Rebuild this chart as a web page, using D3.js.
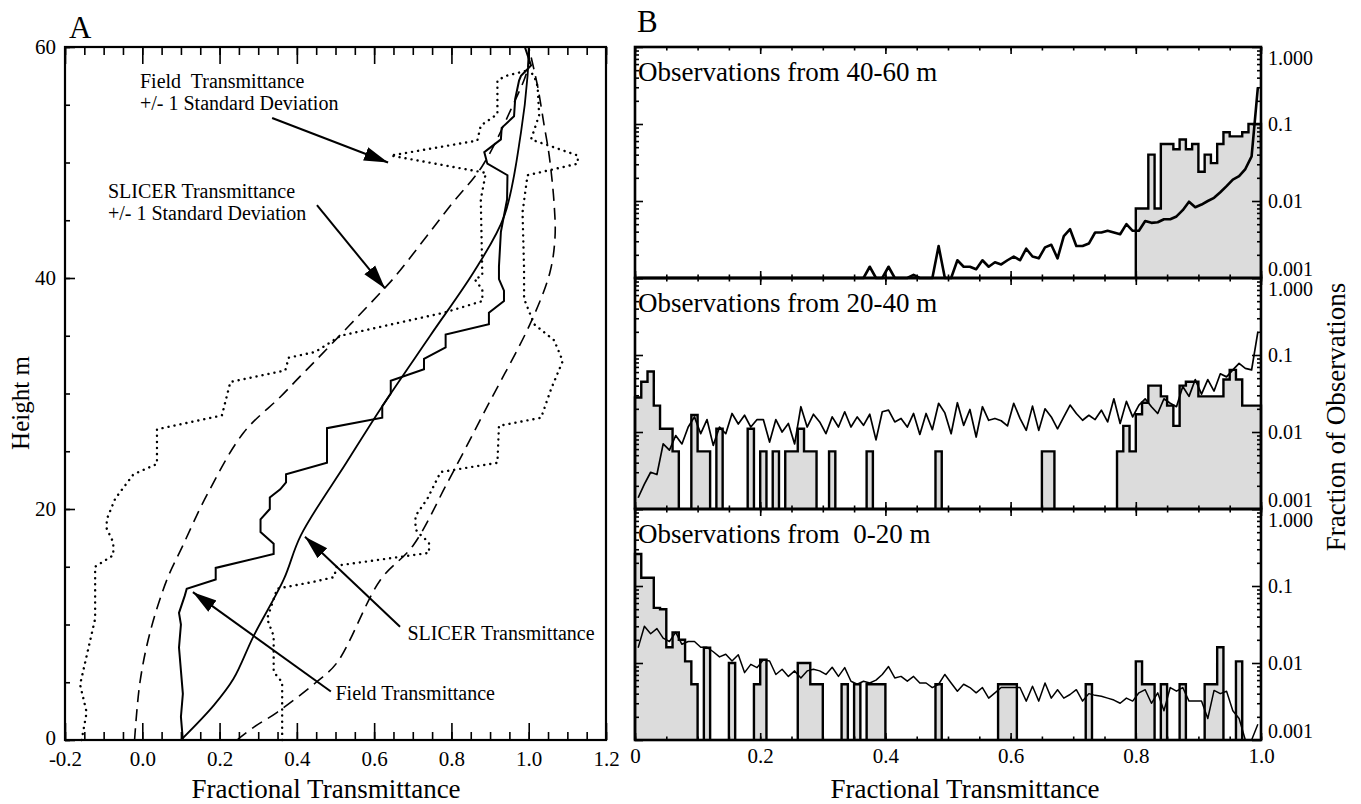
<!DOCTYPE html>
<html>
<head>
<meta charset="utf-8">
<script src="https://cdn.jsdelivr.net/npm/d3@7/dist/d3.min.js"></script>
<style>
body { margin: 0; background: #fff; }
svg text { font-family: "Liberation Serif", "Times New Roman", serif; fill: #000; }
</style>
</head>
<body>
<div id="graph"></div>
<script>
// ---------- panel A : vertical profiles [transmittance, height m] ----------
var heightTicks = [0, 20, 40, 60];
var transTicksA = [-0.2, 0.0, 0.2, 0.4, 0.6, 0.8, 1.0, 1.2];

var fieldProfile = [[0.105,0],[0.10,2],[0.105,4],[0.10,6],[0.095,8],[0.10,10],[0.095,11],[0.11,12.5],[0.115,13.1],
    [0.19,13.9],[0.19,14.9],[0.34,16.1],[0.34,17],[0.306,18],[0.306,19.1],[0.33,20],[0.33,21],[0.357,21.7],
    [0.372,22.3],[0.372,23],[0.478,24],[0.478,27],[0.621,27.9],[0.621,28.9],[0.643,30],[0.643,31.1],[0.729,32.1],
    [0.729,33],[0.785,34],[0.785,35.1],[0.897,36],[0.897,37],[0.936,38],[0.936,38.9],[0.923,39.9],[0.923,41],
    [0.928,44],[0.944,46.8],[0.945,48.9],[0.893,49.9],[0.885,50.9],[0.928,52],[0.93,53],[0.962,54],[0.965,55.5],
    [0.975,57.1],[0.98,57.5],[1.006,58.4],[0.99,60]];
var slicerProfile = [[0.10,0],[0.185,3],[0.236,5.3],[0.288,9],[0.366,13.9],[0.41,17.7],[0.528,24],[0.621,28.9],
    [0.745,35],[0.863,40.8],[0.937,45.4],[0.98,52.6],[0.997,57.5],[1.0,60]];
var slicerLow = [[-0.02,0],[-0.006,5],[0.02,9.3],[0.064,13.9],[0.103,16.7],[0.167,21.2],[0.262,26.6],[0.357,29.7],
    [0.409,31.5],[0.453,33],[0.621,38.9],[0.656,40.2],[0.798,46.3],[0.88,49.7],[0.954,54.6],[0.997,58.1],[1.0,60]];
var slicerHigh = [[0.245,0],[0.288,1.1],[0.349,2.4],[0.45,5],[0.504,6.7],[0.617,13.9],[0.70,16.8],[0.79,22.3],
    [0.893,28.9],[1.006,36.2],[1.055,40.5],[1.068,43.5],[1.066,46.3],[1.053,50.6],[1.04,53.2],[1.023,56.6],[1.0,60]];
var fieldLow = [[-0.157,0],[-0.144,2.4],[-0.161,4.8],[-0.15,6.4],[-0.122,10.5],[-0.122,15],[-0.075,16],[-0.075,17.1],
    [-0.092,18.3],[-0.092,19.1],[-0.07,20.9],[-0.023,23],[0.038,23.9],[0.038,26.9],[0.206,28.1],[0.228,31],[0.37,32],
    [0.379,33.1],[0.448,33.6],[0.513,35],[0.781,37],[0.88,38],[0.88,39],[0.86,39.9],[0.88,40.2],[0.876,46.8],
    [0.889,49.1],[0.643,50.6],[0.867,51.9],[0.876,53.2],[0.919,54.2],[0.919,57.1],[0.941,57.5],[1.0,58]];
var fieldHigh = [[0.362,0],[0.362,5],[0.34,5.9],[0.34,9],[0.323,10.5],[0.349,13.1],[0.444,13.7],[0.496,14.1],
    [0.504,15.1],[0.742,16.2],[0.742,17.1],[0.712,18],[0.707,18.3],[0.707,19.4],[0.738,20.9],[0.772,23.2],[0.919,24],
    [0.923,27.2],[1.032,27.9],[1.058,30.4],[1.088,32.8],[1.066,34.6],[1.014,36],[0.988,38.2],[0.988,40.8],[0.984,45.7],
    [0.997,48.9],[1.127,49.9],[1.127,50.6],[1.006,52],[1.027,54.1],[1.023,56.6],[1.014,57.5],[1.0,58]];

var annoLabels = [
    {lines: ["Field  Transmittance", "+/- 1 Standard Deviation"], at: [-0.006, 56.45]},
    {lines: ["SLICER Transmittance", "+/- 1 Standard Deviation"], at: [-0.089, 46.9]},
    {lines: ["SLICER Transmittance"], at: [0.686, 8.66]},
    {lines: ["Field Transmittance"], at: [0.50, 3.46]}
];
var annoArrows = [
    [[0.336, 53.85], [0.636, 50.0]],
    [[0.452, 46.3], [0.628, 39.1]],
    [[0.667, 9.8], [0.421, 17.6]],
    [[0.488, 4.2], [0.131, 12.8]]
];

// ---------- panel B : histograms, 100 bins of 0.01 ----------
var transTicksB = [0, 0.2, 0.4, 0.6, 0.8, 1.0];
var fracTicks = [0.001, 0.01, 0.1, 1];
var binStarts = d3.range(100).map(function(i) { return i / 100; });
var panelTitles = ["Observations from 40-60 m", "Observations from 20-40 m", "Observations from  0-20 m"];

var obs4060 = [0,0,0,0,0,0,0,0,0,0, 0,0,0,0,0,0,0,0,0,0, 0,0,0,0,0,0,0,0,0,0, 0,0,0,0,0,0,0,0,0,0,
    0,0,0,0,0,0,0,0,0,0, 0,0,0,0,0,0,0,0,0,0, 0,0,0,0,0,0,0,0,0,0, 0,0,0,0,0,0,0,0,0,0,
    0.008,0.008,0.040,0.008,0.055,0.055,0.047,0.063,0.047,0.055,
    0.024,0.040,0.031,0.055,0.078,0.069,0.069,0.078,0.100,0.100];
var slicer4060 = [0.0008,0.0008,0.0008,0.0008,0.0008,0.0008,0.0008,0.0008,0.0008,0.0008,
    0.0008,0.0008,0.0008,0.0008,0.0008,0.0008,0.0008,0.0008,0.0008,0.0008,
    0.0008,0.0008,0.0008,0.0008,0.0008,0.0008,0.0008,0.0008,0.0008,0.0008,
    0.0008,0.0008,0.0008,0.0008,0.0008,0.0008,0.0008,0.0014,0.0008,0.0008,
    0.0014,0.0008,0.0008,0.0008,0.0011,0.0008,0.0008,0.0008,0.0026,0.0008,
    0.0008,0.0017,0.0014,0.0014,0.0013,0.0017,0.0014,0.0016,0.0015,0.0017,
    0.0019,0.0017,0.0024,0.0019,0.0018,0.0025,0.0027,0.0018,0.0035,0.0043,
    0.0026,0.0026,0.0028,0.0039,0.0039,0.0041,0.0039,0.0037,0.0050,0.0041,
    0.0041,0.0055,0.0052,0.0053,0.0058,0.0058,0.0063,0.0076,0.0098,0.0083,
    0.0090,0.0100,0.0110,0.0130,0.0156,0.0190,0.0210,0.0260,0.0380,0.3000];

var obs2040 = [0.028,0.045,0.061,0.022,0.011,0.011,0.0056,0,0,0.0166,
    0.0056,0.0056,0,0.011,0,0,0,0,0.011,0,
    0.0056,0,0.0056,0,0.0056,0.0056,0.011,0.0056,0.0056,0,
    0,0.0056,0,0,0,0,0,0.0056,0,0,
    0,0,0,0,0,0,0,0,0.0056,0,
    0,0,0,0,0,0,0,0,0,0,
    0,0,0,0,0,0.0056,0.0056,0,0,0,
    0,0,0,0,0,0,0,0.0056,0.012,0.0056,
    0.017,0.024,0.040,0.040,0.029,0.022,0.012,0.040,0.045,0.045,
    0.029,0.029,0.029,0.029,0.048,0.064,0.048,0.022,0.022,0.022];
var slicer2040 = [0.0014,0.0021,0.0030,0.0028,0.0070,0.0058,0.0090,0.0070,0.0116,0.0157,
    0.0095,0.0145,0.0067,0.0116,0.0095,0.0174,0.0127,0.0165,0.0116,0.0145,
    0.0145,0.0074,0.0145,0.0100,0.0129,0.0070,0.0213,0.0116,0.0170,0.0135,
    0.0095,0.0157,0.0116,0.0183,0.0116,0.0157,0.0122,0.0170,0.0079,0.0183,
    0.0192,0.0135,0.0150,0.0116,0.0174,0.0093,0.0174,0.0107,0.0236,0.0177,
    0.0095,0.0240,0.0122,0.0196,0.0086,0.0213,0.0142,0.0150,0.0140,0.0120,
    0.0236,0.0150,0.0105,0.0217,0.0105,0.0200,0.0157,0.0110,0.0157,0.0224,
    0.0174,0.0142,0.0165,0.0145,0.0192,0.0135,0.0270,0.0129,0.0250,0.0157,
    0.0224,0.0270,0.0213,0.0174,0.0270,0.0236,0.0213,0.0390,0.0290,0.0480,
    0.0310,0.0480,0.0340,0.0570,0.0520,0.0640,0.0780,0.0670,0.0640,0.2000];

var obs0020 = [0.26,0.128,0.128,0.052,0.050,0.016,0.025,0.020,0.0105,0.0053,
    0,0.0158,0,0,0,0.010,0,0,0,0.0053,
    0.011,0,0,0,0,0,0.010,0.010,0.0053,0.0053,
    0,0,0,0.0053,0,0.0053,0,0.0053,0.0053,0.0053,
    0,0,0,0,0,0,0,0,0.0053,0,
    0,0,0,0,0,0,0,0,0.0053,0.0053,
    0.0053,0,0,0,0,0,0,0,0,0,
    0,0,0.0053,0,0,0,0,0,0,0,
    0.0105,0.0053,0.0053,0,0.0053,0,0,0.0053,0,0,
    0,0.0053,0.0053,0.016,0,0,0.0105,0,0,0];
var slicer0020 = [0.0158,0.0300,0.0240,0.0280,0.0210,0.0190,0.0250,0.0175,0.0190,0.0190,
    0.0160,0.0160,0.0140,0.0120,0.0130,0.0106,0.0128,0.0075,0.0096,0.0087,
    0.0110,0.0106,0.0071,0.0083,0.0067,0.0079,0.0064,0.0079,0.0083,0.0079,
    0.0071,0.0088,0.0067,0.0087,0.0058,0.0053,0.0058,0.0055,0.0060,0.0071,
    0.0090,0.0064,0.0067,0.0058,0.0067,0.0055,0.0055,0.0048,0.0053,0.0071,
    0.0055,0.0043,0.0053,0.0048,0.0041,0.0048,0.0035,0.0041,0.0048,0.0048,
    0.0048,0.0048,0.0032,0.0050,0.0032,0.0055,0.0035,0.0045,0.0035,0.0039,
    0.0045,0.0032,0.0040,0.0038,0.0037,0.0035,0.0033,0.0030,0.0035,0.0032,
    0.0041,0.0045,0.0030,0.0041,0.0024,0.0048,0.0043,0.0048,0.0032,0.0032,
    0.0032,0.0019,0.0044,0.0040,0.0043,0.0024,0.0019,0.0008,0.0008,0.0016];

var panelObs = [obs4060, obs2040, obs0020];
var panelSlicer = [slicer4060, slicer2040, slicer0020];
var slicerWidths = [2.6, 1.7, 1.5];

// ---------- drawing ----------
var serif = "'Liberation Serif', 'Times New Roman', serif";
var svg = d3.select("#graph").append("svg")
    .attr("width", 1361)
    .attr("height", 804);

var sizeA = {left: 65, right: 606, top: 47, bottom: 740};
var sizeB = {left: 635, right: 1261, top: 47, bottom: 740};

var xA = d3.scaleLinear().domain([-0.2, 1.2]).range([sizeA.left, sizeA.right]);
var yA = d3.scaleLinear().domain([0, 60]).range([sizeA.bottom, sizeA.top]);
var xB = d3.scaleLinear().domain([0, 1]).range([sizeB.left, sizeB.right]);

function plainAxis(g) {
    g.attr("font-family", serif).attr("font-size", null);
    g.select(".domain").remove();
    g.selectAll(".tick line").attr("stroke", "#000").attr("stroke-width", 1.6);
    g.selectAll(".tick text").style("font-family", serif);
}

// arrow head
svg.append("defs").append("marker")
    .attr("id", "head")
    .attr("markerUnits", "userSpaceOnUse")
    .attr("viewBox", "-24 -8 26 16")
    .attr("markerWidth", 26)
    .attr("markerHeight", 16)
    .attr("refX", 0)
    .attr("refY", 0)
    .attr("orient", "auto")
    .append("path")
    .attr("d", "M0,0L-24,-7L-24,7Z")
    .attr("fill", "#000");

// ----- panel A -----
var gA = svg.append("g");

gA.append("g").attr("transform", "translate(0," + sizeA.bottom + ")")
    .call(d3.axisBottom(xA).ticks(28).tickSize(-8).tickFormat(""))
    .call(plainAxis);
gA.append("g").attr("transform", "translate(0," + sizeA.bottom + ")")
    .call(d3.axisBottom(xA).tickValues(transTicksA).tickSize(-17).tickPadding(11)
        .tickFormat(function(d) { return d.toFixed(1); }))
    .call(plainAxis)
    .selectAll("text").attr("font-size", 21);
gA.append("g").attr("transform", "translate(0," + sizeA.top + ")")
    .call(d3.axisTop(xA).ticks(28).tickSize(-8).tickFormat(""))
    .call(plainAxis);
gA.append("g").attr("transform", "translate(0," + sizeA.top + ")")
    .call(d3.axisTop(xA).tickValues(transTicksA).tickSize(-17).tickFormat(""))
    .call(plainAxis);
gA.append("g").attr("transform", "translate(" + sizeA.left + ",0)")
    .call(d3.axisLeft(yA).ticks(12).tickSize(-5).tickFormat(""))
    .call(plainAxis);
gA.append("g").attr("transform", "translate(" + sizeA.left + ",0)")
    .call(d3.axisLeft(yA).tickValues(heightTicks).tickSize(-10).tickPadding(9))
    .call(plainAxis)
    .selectAll("text")
    .attr("font-size", 21)
    .attr("dy", function(d) { return d === 0 ? "0.22em" : "0.32em"; });

gA.append("rect")
    .attr("x", sizeA.left)
    .attr("y", sizeA.top)
    .attr("width", sizeA.right - sizeA.left)
    .attr("height", sizeA.bottom - sizeA.top)
    .attr("fill", "none")
    .attr("stroke", "#000")
    .attr("stroke-width", 2.2);

var profileLine = d3.line()
    .x(function(d) { return xA(d[0]); })
    .y(function(d) { return yA(d[1]); });
var smoothLine = d3.line()
    .curve(d3.curveCatmullRom)
    .x(function(d) { return xA(d[0]); })
    .y(function(d) { return yA(d[1]); });

[fieldLow, fieldHigh].forEach(function(p) {
    gA.append("path").attr("d", profileLine(p))
        .attr("fill", "none").attr("stroke", "#000")
        .attr("stroke-width", 2.4).attr("stroke-linecap", "round")
        .attr("stroke-dasharray", "0.1 6");
});
[slicerLow, slicerHigh].forEach(function(p) {
    gA.append("path").attr("d", smoothLine(p))
        .attr("fill", "none").attr("stroke", "#000")
        .attr("stroke-width", 1.6)
        .attr("stroke-dasharray", "12 7");
});
gA.append("path").attr("d", smoothLine(slicerProfile))
    .attr("fill", "none").attr("stroke", "#000").attr("stroke-width", 1.8);
gA.append("path").attr("d", profileLine(fieldProfile))
    .attr("fill", "none").attr("stroke", "#000").attr("stroke-width", 2).attr("stroke-linejoin", "miter");

annoArrows.forEach(function(a) {
    gA.append("line")
        .attr("x1", xA(a[0][0])).attr("y1", yA(a[0][1]))
        .attr("x2", xA(a[1][0])).attr("y2", yA(a[1][1]))
        .attr("stroke", "#000").attr("stroke-width", 2)
        .attr("marker-end", "url(#head)");
});
annoLabels.forEach(function(l) {
    l.lines.forEach(function(s, i) {
        gA.append("text")
            .attr("x", xA(l.at[0]))
            .attr("y", yA(l.at[1]) + i * 22)
            .attr("font-size", 20)
            .style("white-space", "pre")
            .text(s);
    });
});

gA.append("text").attr("x", 69).attr("y", 38).attr("font-size", 31).text("A");
gA.append("text")
    .attr("transform", "translate(29,403) rotate(-90)")
    .attr("text-anchor", "middle")
    .attr("font-size", 25)
    .text("Height m");
gA.append("text")
    .attr("x", 326).attr("y", 798)
    .attr("text-anchor", "middle")
    .attr("font-size", 27)
    .text("Fractional Transmittance");

// ----- panel B -----
var gB = svg.append("g");
var panelH = (sizeB.bottom - sizeB.top) / 3;
var binWidth = 0.01;

function histPath(values, y) {
    var d = "", open = false, base = y.range()[0];
    values.forEach(function(v, i) {
        var x0 = xB(binStarts[i]), x1 = xB(binStarts[i] + binWidth);
        if (v > 0) {
            if (!open) { d += "M" + x0 + "," + base; open = true; }
            d += "V" + y(v) + "H" + x1;
        } else if (open) {
            d += "V" + base;
            open = false;
        }
    });
    if (open) d += "V" + base;
    return d;
}

panelTitles.forEach(function(title, p) {
    var top = sizeB.top + p * panelH, bottom = top + panelH;
    var y = d3.scaleLog().domain([0.001, 1]).range([bottom, top]).clamp(true);
    var g = gB.append("g");
    var minorLog = y.ticks().filter(function(d) { return fracTicks.indexOf(d) < 0; });

    var hp = histPath(panelObs[p], y);
    g.append("path").attr("d", hp).attr("fill", "#dcdcdc").attr("stroke", "none");
    g.append("path").attr("d", hp).attr("fill", "none")
        .attr("stroke", "#000").attr("stroke-width", 2.4).attr("stroke-linejoin", "miter");

    var line = d3.line()
        .x(function(d, i) { return xB(binStarts[i] + binWidth / 2); })
        .y(function(d) { return y(d); });
    g.append("path").attr("d", line(panelSlicer[p]))
        .attr("fill", "none").attr("stroke", "#000")
        .attr("stroke-width", slicerWidths[p]).attr("stroke-linejoin", "round");

    // x ticks top & bottom
    g.append("g").attr("transform", "translate(0," + bottom + ")")
        .call(d3.axisBottom(xB).ticks(20).tickSize(-3.5).tickFormat(""))
        .call(plainAxis);
    g.append("g").attr("transform", "translate(0," + bottom + ")")
        .call(d3.axisBottom(xB).tickValues(transTicksB).tickSize(-7).tickPadding(8)
            .tickFormat(function(d) { return p === 2 ? (d === 0 ? "0" : d.toFixed(1)) : ""; }))
        .call(plainAxis)
        .selectAll("text").attr("font-size", 21);
    g.append("g").attr("transform", "translate(0," + top + ")")
        .call(d3.axisTop(xB).ticks(20).tickSize(-3.5).tickFormat(""))
        .call(plainAxis);
    g.append("g").attr("transform", "translate(0," + top + ")")
        .call(d3.axisTop(xB).tickValues(transTicksB).tickSize(-7).tickFormat(""))
        .call(plainAxis);

    // log ticks left & right
    g.append("g").attr("transform", "translate(" + sizeB.left + ",0)")
        .call(d3.axisLeft(y).tickValues(minorLog).tickSize(-4).tickFormat(""))
        .call(plainAxis);
    g.append("g").attr("transform", "translate(" + sizeB.left + ",0)")
        .call(d3.axisLeft(y).tickValues(fracTicks).tickSize(-8).tickFormat(""))
        .call(plainAxis);
    g.append("g").attr("transform", "translate(" + sizeB.right + ",0)")
        .call(d3.axisRight(y).tickValues(minorLog).tickSize(-4).tickFormat(""))
        .call(plainAxis);
    g.append("g").attr("transform", "translate(" + sizeB.right + ",0)")
        .call(d3.axisRight(y).tickValues(fracTicks).tickSize(-9).tickPadding(7)
            .tickFormat(function(d) { return d === 1 ? "1.000" : String(d); }))
        .call(plainAxis)
        .selectAll("text")
        .attr("font-size", 20)
        .attr("dy", function(d) { return d === 1 ? "0.86em" : d === 0.001 ? "-0.12em" : "0.32em"; });

    g.append("rect")
        .attr("x", sizeB.left).attr("y", top)
        .attr("width", sizeB.right - sizeB.left).attr("height", panelH)
        .attr("fill", "none").attr("stroke", "#000").attr("stroke-width", 2.6);

    g.append("text")
        .attr("x", sizeB.left + 3).attr("y", top + 34)
        .attr("font-size", 27)
        .style("white-space", "pre")
        .text(title);
});

gB.append("text").attr("x", 637).attr("y", 32).attr("font-size", 31).text("B");
gB.append("text")
    .attr("x", 965).attr("y", 798)
    .attr("text-anchor", "middle")
    .attr("font-size", 27)
    .text("Fractional Transmittance");
gB.append("text")
    .attr("transform", "translate(1345,417) rotate(-90)")
    .attr("text-anchor", "middle")
    .attr("font-size", 27)
    .text("Fraction of Observations");
</script>
</body>
</html>
